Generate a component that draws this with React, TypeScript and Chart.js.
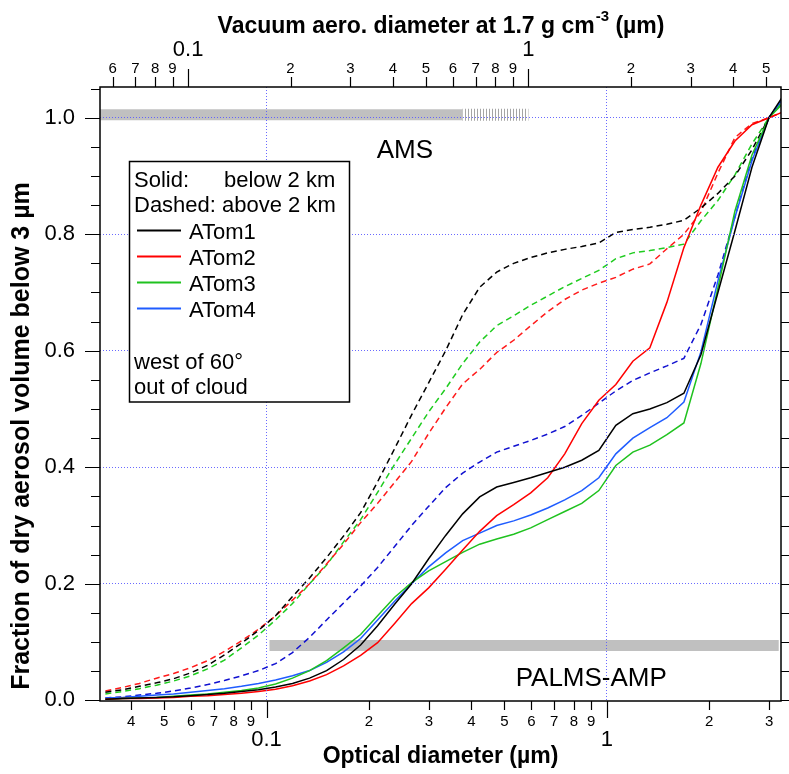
import React, { useEffect, useRef } from 'react';
import { Chart, registerables } from 'chart.js';
Chart.register(...registerables);

const FONT = '"Liberation Sans", Arial, sans-serif';

// optical diameter (µm) of the data points
const DIAMETER = [
  0.0336, 0.0377, 0.0423, 0.0475, 0.0533, 0.0598, 0.0671, 0.0752, 0.0844, 0.0947,
  0.1063, 0.1192, 0.1338, 0.1501, 0.1684, 0.189, 0.212, 0.2379, 0.2669, 0.2995,
  0.336, 0.377, 0.423, 0.4746, 0.5325, 0.5975, 0.6704, 0.7522, 0.844, 0.9473,
  1.0629, 1.1926, 1.3381, 1.5014, 1.6847, 1.8903, 2.121, 2.3798, 2.6702, 2.9961, 3.3617,
];

const ATOM1_BELOW = [
  0.002, 0.003, 0.004, 0.005, 0.006, 0.008, 0.010, 0.012, 0.015, 0.018,
  0.023, 0.029, 0.038, 0.051, 0.070, 0.095, 0.128, 0.165, 0.200, 0.243,
  0.283, 0.320, 0.349, 0.366, 0.374, 0.382, 0.391, 0.400, 0.412, 0.429,
  0.472, 0.492, 0.500, 0.511, 0.527, 0.593, 0.700, 0.806, 0.915, 1.000, 1.045,
];
const ATOM2_BELOW = [
  0.002, 0.003, 0.003, 0.004, 0.005, 0.007, 0.008, 0.010, 0.012, 0.015,
  0.019, 0.025, 0.033, 0.044, 0.059, 0.077, 0.099, 0.132, 0.166, 0.193,
  0.225, 0.258, 0.290, 0.317, 0.336, 0.356, 0.382, 0.423, 0.475, 0.515,
  0.542, 0.582, 0.605, 0.683, 0.777, 0.850, 0.915, 0.960, 0.988, 1.000, 1.012,
];
const ATOM3_BELOW = [
  0.002, 0.003, 0.004, 0.005, 0.007, 0.009, 0.011, 0.014, 0.017, 0.021,
  0.028, 0.038, 0.051, 0.068, 0.090, 0.113, 0.145, 0.177, 0.202, 0.222,
  0.238, 0.254, 0.268, 0.277, 0.285, 0.296, 0.310, 0.324, 0.338, 0.360,
  0.403, 0.426, 0.438, 0.456, 0.476, 0.578, 0.708, 0.840, 0.936, 1.000, 1.030,
];
const ATOM4_BELOW = [
  0.004, 0.005, 0.007, 0.009, 0.011, 0.014, 0.017, 0.020, 0.024, 0.029,
  0.035, 0.042, 0.051, 0.065, 0.083, 0.106, 0.138, 0.170, 0.200, 0.229,
  0.253, 0.274, 0.287, 0.300, 0.308, 0.318, 0.330, 0.344, 0.360, 0.382,
  0.423, 0.450, 0.468, 0.485, 0.512, 0.598, 0.720, 0.829, 0.926, 1.000, 1.040,
];
const ATOM1_ABOVE = [
  0.014, 0.018, 0.024, 0.030, 0.037, 0.047, 0.060, 0.078, 0.098, 0.120,
  0.145, 0.178, 0.210, 0.245, 0.282, 0.322, 0.375, 0.432, 0.490, 0.545,
  0.600, 0.662, 0.709, 0.735, 0.750, 0.760, 0.768, 0.774, 0.779, 0.785,
  0.803, 0.808, 0.812, 0.817, 0.824, 0.845, 0.870, 0.900, 0.945, 1.000, 1.040,
];
const ATOM2_ABOVE = [
  0.016, 0.022, 0.029, 0.038, 0.046, 0.056, 0.068, 0.084, 0.102, 0.122,
  0.145, 0.172, 0.200, 0.234, 0.268, 0.305, 0.338, 0.374, 0.410, 0.458,
  0.502, 0.543, 0.568, 0.597, 0.618, 0.643, 0.667, 0.688, 0.704, 0.716,
  0.726, 0.740, 0.749, 0.775, 0.800, 0.838, 0.905, 0.966, 0.990, 1.000, 1.012,
];
const ATOM3_ABOVE = [
  0.011, 0.015, 0.020, 0.026, 0.033, 0.042, 0.054, 0.069, 0.090, 0.112,
  0.138, 0.166, 0.200, 0.232, 0.272, 0.310, 0.357, 0.405, 0.450, 0.495,
  0.535, 0.578, 0.615, 0.643, 0.660, 0.678, 0.694, 0.710, 0.724, 0.738,
  0.758, 0.768, 0.772, 0.777, 0.783, 0.823, 0.858, 0.902, 0.955, 1.000, 1.035,
];
const ATOM4_ABOVE = [
  0.004, 0.006, 0.009, 0.012, 0.016, 0.021, 0.027, 0.034, 0.042, 0.051,
  0.063, 0.082, 0.108, 0.138, 0.167, 0.196, 0.228, 0.264, 0.300, 0.333,
  0.365, 0.390, 0.409, 0.426, 0.436, 0.446, 0.457, 0.470, 0.489, 0.510,
  0.531, 0.549, 0.562, 0.574, 0.587, 0.645, 0.730, 0.830, 0.930, 1.000, 1.040,
];

// instrument size ranges (AMS on vacuum aerodynamic axis, PALMS on optical axis)
const AMS_SOLID_X = [0.05, 0.64];
const AMS_HATCH_X = [0.64, 1.0];
const AMS_Y = 1.005;
const PALMS_X = [0.102, 3.2];
const PALMS_Y = 0.094;

const X_TICKS = [0.04, 0.05, 0.06, 0.07, 0.08, 0.09, 0.1, 0.2, 0.3, 0.4, 0.5, 0.6, 0.7, 0.8, 0.9, 1, 2, 3];
const X_TICK_LABELS = ['4', '5', '6', '7', '8', '9', '0.1', '2', '3', '4', '5', '6', '7', '8', '9', '1', '2', '3'];
const X2_TICKS = [0.06, 0.07, 0.08, 0.09, 0.1, 0.2, 0.3, 0.4, 0.5, 0.6, 0.7, 0.8, 0.9, 1, 2, 3, 4, 5];
const X2_TICK_LABELS = ['6', '7', '8', '9', '0.1', '2', '3', '4', '5', '6', '7', '8', '9', '1', '2', '3', '4', '5'];
const Y_TICKS = [0, 0.05, 0.1, 0.15, 0.2, 0.25, 0.3, 0.35, 0.4, 0.45, 0.5, 0.55, 0.6, 0.65, 0.7, 0.75, 0.8, 0.85, 0.9, 0.95, 1.0, 1.05];
const Y_TICK_LABELS = ['0.0', '', '', '', '0.2', '', '', '', '0.4', '', '', '', '0.6', '', '', '', '0.8', '', '', '', '1.0', ''];

const SERIES = [
  { name: 'ATom1', below: ATOM1_BELOW, above: ATOM1_ABOVE, solid: '#000000', dashed: '#000000' },
  { name: 'ATom2', below: ATOM2_BELOW, above: ATOM2_ABOVE, solid: '#ff0000', dashed: '#ff1a1a' },
  { name: 'ATom3', below: ATOM3_BELOW, above: ATOM3_ABOVE, solid: '#1fc21f', dashed: '#1fcc1f' },
  { name: 'ATom4', below: ATOM4_BELOW, above: ATOM4_ABOVE, solid: '#1f5cff', dashed: '#1010d0' },
];

const TEXT_NOTES = [
  { text: 'AMS', x: 0.255, y: 0.93 },
  { text: 'PALMS-AMP', x: 0.9, y: 0.025 },
];

const GRID = 'rgba(90,90,255,0.9)';
const CLEAR = 'rgba(0,0,0,0)';
const isDecade = (v: number) => Math.abs(Math.log10(v) - Math.round(Math.log10(v))) < 1e-9;
const isYMajor = (v: number) => Math.abs(v * 5 - Math.round(v * 5)) < 1e-9;

const decorPlugin = {
  id: 'decor',
  afterDraw(chart: any) {
    const { ctx, chartArea: a, scales } = chart;
    const x = scales.x, x2 = scales.x2, y = scales.y;
    ctx.save();
    // frame
    ctx.strokeStyle = '#000';
    ctx.lineWidth = 1.5;
    ctx.strokeRect(a.left, a.top, a.right - a.left, a.bottom - a.top);
    // tick marks
    ctx.lineWidth = 1.2;
    ctx.beginPath();
    for (const v of X_TICKS) {
      const p = Math.round(x.getPixelForValue(v)) + 0.5;
      ctx.moveTo(p, a.bottom);
      ctx.lineTo(p, a.bottom + (isDecade(v) ? 17 : 9));
    }
    for (const v of X2_TICKS) {
      const p = Math.round(x2.getPixelForValue(v)) + 0.5;
      ctx.moveTo(p, a.top);
      ctx.lineTo(p, a.top - (isDecade(v) ? 18 : 10));
    }
    for (const v of Y_TICKS) {
      const p = Math.round(y.getPixelForValue(v)) + 0.5;
      const len = isYMajor(v) ? 15 : 9;
      ctx.moveTo(a.left, p);
      ctx.lineTo(a.left - len, p);
      ctx.moveTo(a.right, p);
      ctx.lineTo(a.right + len, p);
    }
    ctx.stroke();

    ctx.fillStyle = '#000';
    // axis titles
    const cx = (a.left + a.right) / 2;
    ctx.textBaseline = 'alphabetic';
    ctx.textAlign = 'left';
    const t1 = 'Vacuum aero. diameter at 1.7 g cm';
    const t2 = '-3';
    const t3 = ' (µm)';
    const big = `bold 23px ${FONT}`;
    const small = `bold 15px ${FONT}`;
    ctx.font = big;
    const w1 = ctx.measureText(t1).width;
    const w3 = ctx.measureText(t3).width;
    ctx.font = small;
    const w2 = ctx.measureText(t2).width;
    let sx = cx - (w1 + w2 + w3) / 2;
    ctx.font = big;
    ctx.fillText(t1, sx, 33);
    sx += w1;
    ctx.font = small;
    ctx.fillText(t2, sx + 1, 21);
    sx += w2 + 1;
    ctx.font = big;
    ctx.fillText(t3, sx, 33);

    ctx.textAlign = 'center';
    ctx.font = big;
    ctx.fillText('Optical diameter (µm)', cx, 763);

    ctx.save();
    ctx.translate(29, 436);
    ctx.rotate(-Math.PI / 2);
    ctx.font = `bold 25px ${FONT}`;
    ctx.fillText('Fraction of dry aerosol volume below 3 µm', 0, 0);
    ctx.restore();

    // instrument notes
    ctx.font = `26px ${FONT}`;
    ctx.textAlign = 'center';
    for (const n of TEXT_NOTES) {
      ctx.fillText(n.text, x.getPixelForValue(n.x), y.getPixelForValue(n.y));
    }

    // legend box
    const bx = a.left + 29.5, by = 161.5, bw = 220, bh = 240.5;
    ctx.fillStyle = '#fff';
    ctx.fillRect(bx, by, bw, bh);
    ctx.strokeStyle = '#000';
    ctx.lineWidth = 1.5;
    ctx.strokeRect(bx, by, bw, bh);
    ctx.fillStyle = '#000';
    ctx.font = `22px ${FONT}`;
    ctx.textAlign = 'left';
    ctx.fillText('Solid:', bx + 4.5, 186.5);
    ctx.fillText('below 2 km', bx + 94.5, 186.5);
    ctx.fillText('Dashed: above 2 km', bx + 4.5, 212);
    const rows = [238.5, 264.5, 290.5, 316.5];
    SERIES.forEach((s, i) => {
      ctx.strokeStyle = s.solid;
      ctx.lineWidth = 1.8;
      ctx.beginPath();
      ctx.moveTo(bx + 7.5, rows[i] - 8);
      ctx.lineTo(bx + 51.5, rows[i] - 8);
      ctx.stroke();
      ctx.fillText(s.name, bx + 59.5, rows[i]);
    });
    ctx.fillText('west of 60°', bx + 4.5, 368.5);
    ctx.fillText('out of cloud', bx + 4.5, 393.5);
    ctx.restore();
  },
};

export default function App() {
  const ref = useRef<HTMLCanvasElement>(null);
  useEffect(() => {
    const canvas = ref.current!;
    const ctx = canvas.getContext('2d')!;
    const pc = document.createElement('canvas');
    pc.width = 3;
    pc.height = 4;
    const pctx = pc.getContext('2d')!;
    pctx.fillStyle = 'rgb(165,165,165)';
    pctx.fillRect(0, 0, 1, 4);
    const hatch = ctx.createPattern(pc, 'repeat');

    const curves: any[] = [];
    SERIES.forEach((s) => {
      curves.push({
        label: s.name + ' below',
        data: DIAMETER.map((d, i) => ({ x: d, y: s.below[i] })),
        borderColor: s.solid,
        borderWidth: 1.5,
        xAxisID: 'x',
        yAxisID: 'y',
        order: 1,
      });
      curves.push({
        label: s.name + ' above',
        data: DIAMETER.map((d, i) => ({ x: d, y: s.above[i] })),
        borderColor: s.dashed,
        borderWidth: 1.5,
        borderDash: [6, 4],
        xAxisID: 'x',
        yAxisID: 'y',
        order: 2,
      });
    });
    const bars: any[] = [
      {
        label: 'AMS',
        data: AMS_SOLID_X.map((v) => ({ x: v, y: AMS_Y })),
        borderColor: 'rgb(192,192,192)',
        borderWidth: 11,
        xAxisID: 'x2',
        yAxisID: 'y',
        order: 10,
      },
      {
        label: 'AMS partial',
        data: AMS_HATCH_X.map((v) => ({ x: v, y: AMS_Y })),
        borderColor: hatch,
        borderWidth: 12,
        xAxisID: 'x2',
        yAxisID: 'y',
        order: 10,
      },
      {
        label: 'PALMS',
        data: PALMS_X.map((v) => ({ x: v, y: PALMS_Y })),
        borderColor: 'rgb(192,192,192)',
        borderWidth: 11,
        xAxisID: 'x',
        yAxisID: 'y',
        order: 10,
      },
    ];

    const tickFont = (c: any) => {
      const v = c.tick ? c.tick.value : 1;
      return isDecade(v)
        ? { size: 22, family: FONT, lineHeight: 0.79 }
        : { size: 15, family: FONT, lineHeight: 1 };
    };

    const chart = new Chart(ctx, {
      type: 'line',
      data: { datasets: [...curves, ...bars] },
      options: {
        responsive: false,
        animation: false,
        devicePixelRatio: 1,
        layout: { padding: { left: 0, right: 8, top: 0, bottom: 0 } },
        elements: { point: { radius: 0 }, line: { tension: 0, fill: false, borderCapStyle: 'butt' } },
        plugins: { legend: { display: false }, tooltip: { enabled: false } },
        scales: {
          x: {
            type: 'logarithmic',
            position: 'bottom',
            min: 0.0324,
            max: 3.25,
            afterBuildTicks: (s: any) => { s.ticks = X_TICKS.map((v) => ({ value: v })); },
            afterFit: (s: any) => { s.height = 73; },
            grid: {
              z: 1,
              drawTicks: false,
              lineWidth: 1,
              color: (c: any) => (c.tick && isDecade(c.tick.value) ? GRID : CLEAR),
            },
            border: { display: false, dash: [1, 2] },
            ticks: {
              autoSkip: false,
              maxRotation: 0,
              minRotation: 0,
              padding: 13,
              color: '#000',
              font: tickFont,
              callback: (v: any, i: number) => (isDecade(X_TICKS[i]) ? ['', X_TICK_LABELS[i]] : X_TICK_LABELS[i]),
            },
          },
          x2: {
            type: 'logarithmic',
            position: 'top',
            min: 0.0551,
            max: 5.525,
            afterBuildTicks: (s: any) => { s.ticks = X2_TICKS.map((v) => ({ value: v })); },
            afterFit: (s: any) => { s.height = 87; },
            grid: { display: false, drawTicks: false },
            border: { display: false },
            ticks: {
              autoSkip: false,
              maxRotation: 0,
              minRotation: 0,
              padding: 11,
              color: '#000',
              font: tickFont,
              callback: (v: any, i: number) => (isDecade(X2_TICKS[i]) ? [X2_TICK_LABELS[i], ''] : X2_TICK_LABELS[i]),
            },
          },
          y: {
            type: 'linear',
            position: 'left',
            min: -0.0012,
            max: 1.0527,
            afterBuildTicks: (s: any) => { s.ticks = Y_TICKS.map((v) => ({ value: v })); },
            afterFit: (s: any) => { s.width = 100; },
            grid: {
              z: 1,
              drawTicks: false,
              lineWidth: 1,
              color: (c: any) => (c.tick && isYMajor(c.tick.value) && c.tick.value > 0.01 && c.tick.value < 1.01 ? GRID : CLEAR),
            },
            border: { display: false, dash: [1, 2] },
            ticks: {
              autoSkip: false,
              padding: 25,
              color: '#000',
              font: { size: 22, family: FONT },
              callback: (v: any, i: number) => Y_TICK_LABELS[i],
            },
          },
        },
      } as any,
      plugins: [decorPlugin],
    });
    return () => chart.destroy();
  }, []);

  return (
    <div style={{ position: 'fixed', left: 0, top: 0, width: 789, height: 774, background: '#fff' }}>
      <canvas ref={ref} width={789} height={774} style={{ display: 'block', width: 789, height: 774 }} />
    </div>
  );
}
